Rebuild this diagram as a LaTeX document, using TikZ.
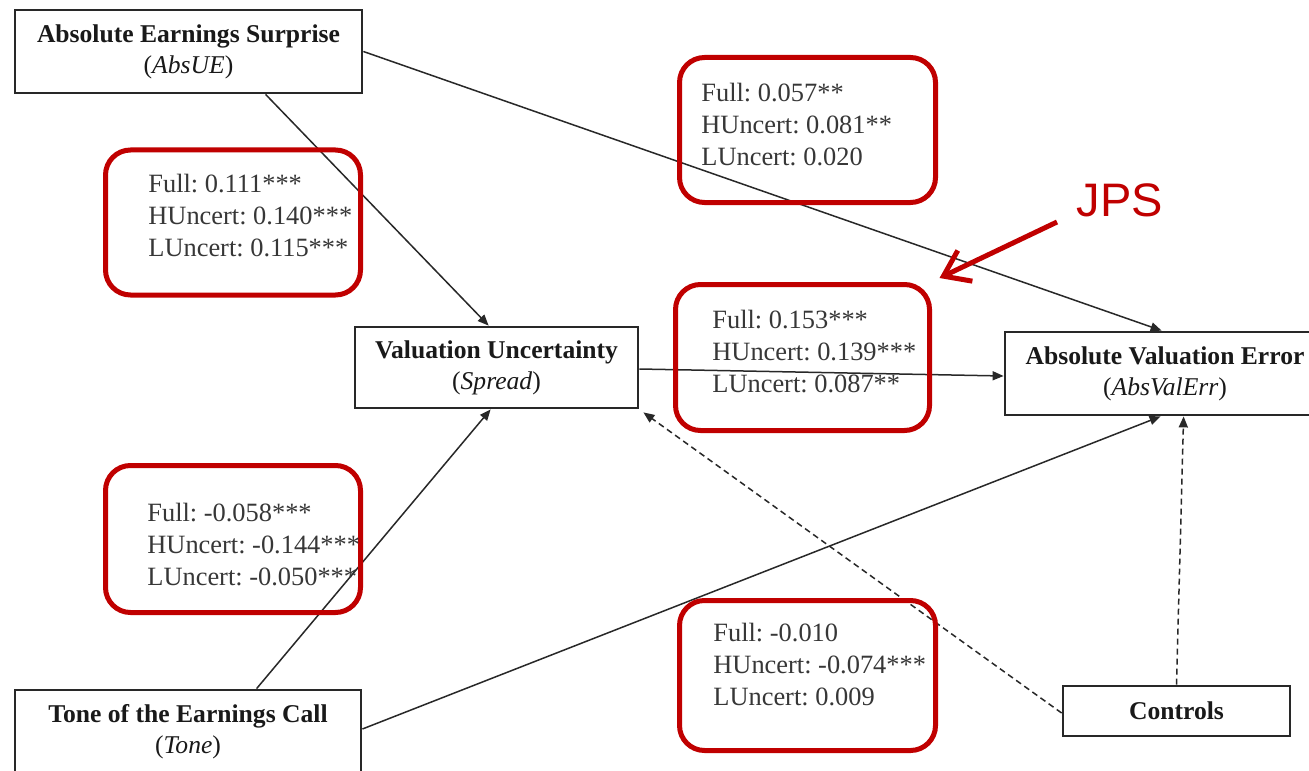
\documentclass[tikz,border=0pt]{standalone}
\usepackage{fontspec}
\setmainfont{Liberation Serif}
\newfontfamily\jpsfont{Liberation Sans}
\usetikzlibrary{arrows.meta}
\definecolor{boxred}{RGB}{192,0,0}
\definecolor{ink}{RGB}{40,40,40}
\definecolor{lbl}{RGB}{55,55,55}
\frenchspacing
\tikzset{
  varbox/.style={draw=ink, line width=1.4pt, fill=white, align=center, inner sep=0pt,
    font=\fontsize{12.8}{15.5}\selectfont, text=black!90},
  redbox/.style={draw=boxred, line width=2.5pt, rounded corners=12.5pt, inner sep=0pt},
  lbltext/.style={anchor=west, align=left, inner sep=0pt, text=lbl,
    font=\fontsize{13.2}{16}\selectfont},
  arr/.style={draw=ink, line width=0.75pt, -{Triangle[length=5.5pt,width=4.5pt]}},
  darr/.style={arr, dash pattern=on 3pt off 2pt},
  jpsarr/.style={draw=boxred, line width=2.5pt, -{Straight Barb[length=12pt,width=17pt]}}
}
\begin{document}
\begin{tikzpicture}[x=0.5pt,y=-0.5pt]
\useasboundingbox (0,0) rectangle (1309,770);
\clip (0,0) rectangle (1309,770);
\fill[white] (0,0) rectangle (1309,770);

% variable boxes
\node[varbox, minimum width=173.5pt, minimum height=41.5pt] (ue) at (188.5,51.5)
  {\textbf{Absolute Earnings Surprise}\\(\textit{AbsUE})};
\node[varbox, minimum width=141.5pt, minimum height=40.5pt] (sp) at (496.5,367.5)
  {\textbf{Valuation Uncertainty}\\(\textit{Spread})};
\node[varbox, minimum width=160pt, minimum height=41.5pt] (ve) at (1165,373.5)
  {\textbf{Absolute Valuation Error}\\(\textit{AbsValErr})};
\node[varbox, minimum width=173pt, minimum height=41.5pt] (tn) at (188,731.5)
  {\textbf{Tone of the Earnings Call}\\(\textit{Tone})};
\node[varbox, minimum width=113.5pt, minimum height=25pt] (ct) at (1176.5,711)
  {\textbf{Controls}};

% connectors
\draw[arr] ([xshift=126pt]ue.south west) -- ([xshift=67.5pt]sp.north west);
\draw[arr] (ue.east) -- ([xshift=79pt]ve.north west);
\draw[arr] ([yshift=-0.75pt]sp.east) -- ([yshift=-1.25pt]ve.west);
\draw[arr] ([xshift=121.5pt]tn.north west) -- ([xshift=68.5pt]sp.south west);
\draw[arr] ([yshift=1.25pt]tn.east) -- ([xshift=78.5pt]ve.south west);
\draw[darr] ([yshift=-1pt]ct.west) -- ([xshift=2pt,yshift=-1.5pt]sp.south east);
\draw[darr] (ct.north) -- ([xshift=90pt]ve.south west);

% red highlight boxes
\node[redbox, minimum width=127.5pt, minimum height=72.5pt] (r1) at (233,222.5) {};
\node[redbox, minimum width=128pt, minimum height=72.5pt] (r2) at (807.5,130) {};
\node[redbox, minimum width=127pt, minimum height=73pt] (r3) at (802.5,357.5) {};
\node[redbox, minimum width=127.5pt, minimum height=73.5pt] (r4) at (233,539) {};
\node[redbox, minimum width=128pt, minimum height=75pt] (r5) at (807.5,675.5) {};

% coefficient labels
\node[lbltext] (t1) at (148,216) {Full: 0.111***\\HUncert: 0.140***\\LUncert: 0.115***};
\node[lbltext] (t2) at (701,125) {Full: 0.057**\\HUncert: 0.081**\\LUncert: 0.020};
\node[lbltext] (t3) at (712,352) {Full: 0.153***\\HUncert: 0.139***\\LUncert: 0.087**};
\node[lbltext] (t4) at (147,545) {Full: -0.058***\\HUncert: -0.144***\\LUncert: -0.050***};
\node[lbltext] (t5) at (713,665) {Full: -0.010\\HUncert: -0.074***\\LUncert: 0.009};

% JPS annotation
\node[inner sep=0pt, text=boxred, font=\jpsfont\fontsize{23.5}{26}\selectfont] (jps) at (1120,200) {JPS};
\coordinate (jpsfrom) at (1057,222);
\draw[jpsarr] (jpsfrom) -- ([xshift=3.75pt,yshift=2pt]r3.north east);
\end{tikzpicture}
\end{document}
